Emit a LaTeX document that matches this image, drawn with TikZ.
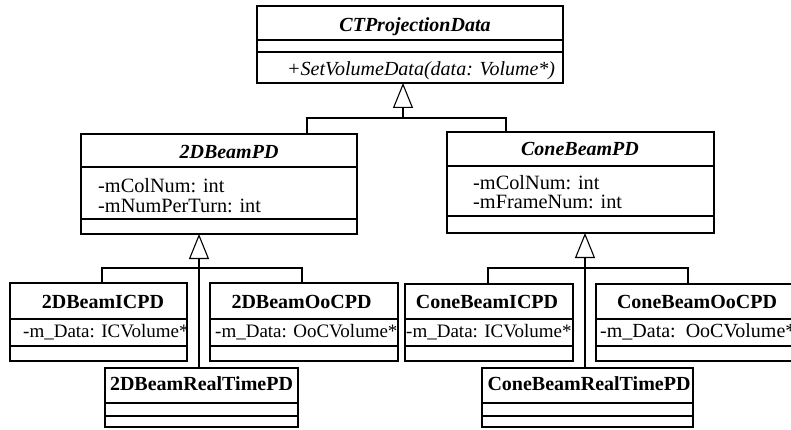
\documentclass[tikz,border=0pt]{standalone}
\usepackage{fontspec}
\setmainfont{Liberation Serif}
\usetikzlibrary{arrows.meta}
\tikzset{
  classbox/.style={draw, line width=1.2pt, inner sep=0pt, outer sep=0pt},
  divline/.style={line width=1.2pt},
  conn/.style={line width=1.1pt},
  gen/.style={line width=1.1pt, -{Triangle[open, length=25pt 0 1, width=20pt 0 1]}},
  ttl/.style={font=\fontsize{20}{24}\selectfont\bfseries, inner sep=0pt, text height=13.2pt, text depth=0pt, anchor=center},
  ittl/.style={ttl, font=\fontsize{20}{24}\selectfont\bfseries\itshape},
  attr/.style={font=\fontsize{20.3}{24}\selectfont, inner sep=0pt, anchor=west, text height=13.2pt, text depth=0pt},
  sattr/.style={attr, font=\fontsize{19}{23}\selectfont},
  meth/.style={attr, font=\fontsize{20}{24}\selectfont\itshape},
}
\newcommand\umlbox[7]{%
  \node[classbox, anchor=north west, minimum width={(#4-#2)*1pt}, minimum height={(#5-#3)*1pt}] (#1) at (#2,#3) {};
  \draw[divline] (#2,#6) -- (#4,#6);
  \draw[divline] (#2,#7) -- (#4,#7);
}
\begin{document}
\begin{tikzpicture}[x=1pt, y=-1pt]
\useasboundingbox (0,0) rectangle (791,430);
\clip (0,0) rectangle (791,430);

% classes
\umlbox{top}{257}{6}{563}{83}{40}{52}
\umlbox{b2d}{81}{134}{357}{234}{167}{219}
\umlbox{cone}{447}{132}{714}{233}{166}{216}
\umlbox{ic2d}{10}{283}{187}{361}{319}{346}
\umlbox{ooc2d}{210}{283}{398}{361}{319}{346}
\umlbox{rt2d}{105}{368}{298}{427}{403}{416}
\umlbox{icc}{405}{284}{573}{361}{319}{346}
\umlbox{oocc}{596}{284}{810}{361}{319}{346}
\umlbox{rtc}{482}{368}{693}{427}{403}{416}

% texts
\node[ittl] (topT) at (415,25) {CTProjectionData};
\node[meth] (topM) at (287,68.5) {+SetVolumeData(data: Volume*)};
\node[ittl] (b2dT) at (229,151.5) {2DBeamPD};
\node[attr] (b2dA1) at (98,186) {-mColNum: int};
\node[attr] (b2dA2) at (98,205.5) {-mNumPerTurn: int};
\node[ittl] (coneT) at (580,149) {ConeBeamPD};
\node[attr] (coneA1) at (473,183) {-mColNum: int};
\node[attr] (coneA2) at (473,201.5) {-mFrameNum: int};
\node[ttl] (ic2dT) at (103,301.5) {2DBeamICPD};
\node[sattr] (ic2dA) at (23,331) {-m\_Data: ICVolume*};
\node[ttl] (ooc2dT) at (301.5,301.5) {2DBeamOoCPD};
\node[sattr] (ooc2dA) at (215,331) {-m\_Data: OoCVolume*};
\node[ttl] (rt2dT) at (201.5,384) {2DBeamRealTimePD};
\node[ttl] (iccT) at (487,302) {ConeBeamICPD};
\node[sattr] (iccA) at (406,331) {-m\_Data: ICVolume*};
\node[ttl] (ooccT) at (697,302) {ConeBeamOoCPD};
\node[attr, font=\fontsize{20}{24}\selectfont] (ooccA) at (600,331) {-m\_Data:\ \ OoCVolume*};
\node[ttl] (rtcT) at (589,384) {ConeBeamRealTimePD};

% generalization: top level
\coordinate (j1) at (403,118);
\coordinate (a1) at (307,0);
\coordinate (b1) at (506,0);
\draw[gen] (j1) -- (j1 |- top.south);
\draw[conn] (b2d.north -| a1) |- (j1) -| (cone.north -| b1);

% generalization: 2D beam
\coordinate (j2) at (199,268);
\coordinate (a2) at (102,0);
\coordinate (b2) at (302,0);
\draw[gen] (rt2d.north -| j2) -- (b2d.south -| j2);
\draw[conn] (ic2d.north -| a2) |- (j2) -| (ooc2d.north -| b2);

% generalization: cone beam
\coordinate (j3) at (585,268);
\coordinate (a3) at (488,0);
\coordinate (b3) at (688,0);
\draw[gen] (rtc.north -| j3) -- (cone.south -| j3);
\draw[conn] (icc.north -| a3) |- (j3) -| (oocc.north -| b3);
\end{tikzpicture}
\end{document}
